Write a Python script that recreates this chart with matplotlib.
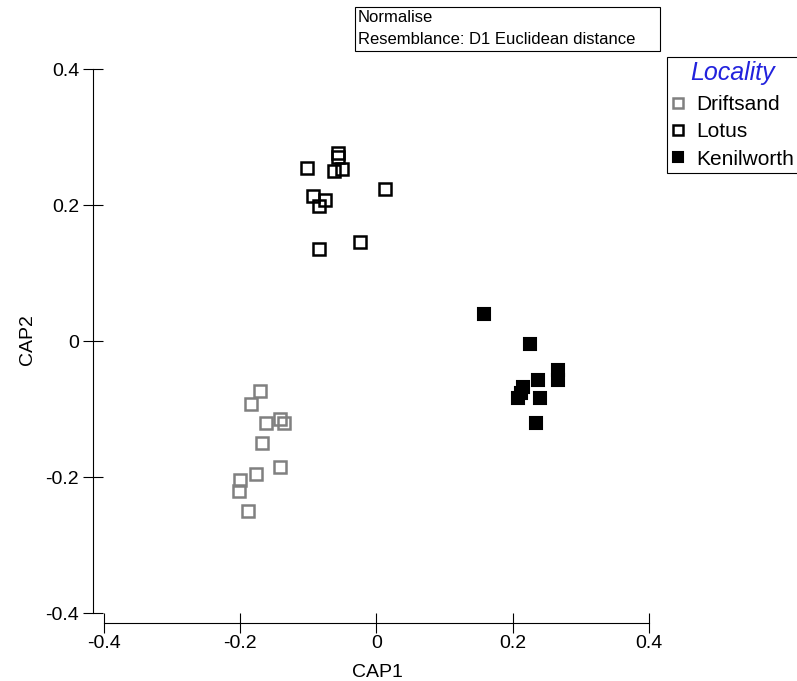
import matplotlib
matplotlib.use("Agg")
import matplotlib.pyplot as plt
from matplotlib.patches import Rectangle

plt.rcParams["font.family"] = ["Liberation Sans", "DejaVu Sans"]

# ---- datos ----
drift_x = [-0.171, -0.184, -0.162, -0.142, -0.136, -0.168, -0.142, -0.177, -0.200, -0.201, -0.188]
drift_y = [-0.073, -0.092, -0.121, -0.115, -0.120, -0.150, -0.185, -0.195, -0.204, -0.220, -0.250]

lotus_x = [-0.102, -0.056, -0.056, -0.062, -0.050, -0.093, -0.076, -0.084, 0.013, -0.024, -0.084]
lotus_y = [0.254, 0.277, 0.271, 0.250, 0.253, 0.213, 0.208, 0.198, 0.223, 0.145, 0.136]

keni_x = [0.158, 0.225, 0.266, 0.267, 0.238, 0.216, 0.208, 0.212, 0.241, 0.235]
keni_y = [0.040, -0.005, -0.043, -0.058, -0.058, -0.068, -0.084, -0.077, -0.084, -0.120]

ticks = [-0.4, -0.2, 0, 0.2, 0.4]
tick_labels = ["-0.4", "-0.2", "0", "0.2", "0.4"]

W, H = 797, 681
fig = plt.figure(figsize=(W / 100, H / 100), dpi=100)
ax = fig.add_axes([93 / W, (H - 623) / H, (662.4 - 93) / W, (623 - 55.4) / H])

ax.plot(drift_x, drift_y, "s", ls="none", ms=8, mfc="none", mec="#808080", mew=1.8, label="Driftsand")
ax.plot(lotus_x, lotus_y, "s", ls="none", ms=8, mfc="none", mec="black", mew=1.8, label="Lotus")
ax.plot(keni_x, keni_y, "s", ls="none", ms=8.5, mfc="black", mec="black", mew=1.5, label="Kenilworth")

ax.set_xlim(-0.416, 0.42)
ax.set_ylim(-0.4147, 0.42)

for s in ["top", "right"]:
    ax.spines[s].set_visible(False)
for s in ["left", "bottom"]:
    ax.spines[s].set_bounds(-0.4, 0.4)
    ax.spines[s].set_linewidth(0.8)

ax.set_xticks(ticks)
ax.set_xticklabels(tick_labels)
ax.set_yticks(ticks)
ax.set_yticklabels(tick_labels)
ax.tick_params(direction="inout", length=14, width=0.8, labelsize=14, pad=3)
ax.tick_params(axis="x", pad=2)

ax.set_xlabel("CAP1", fontsize=14, labelpad=8)
ax.set_ylabel("CAP2", fontsize=14, labelpad=7)

# leyenda
leg = ax.legend(loc="upper left", bbox_to_anchor=(667 / W, 1 - 57 / H), bbox_transform=fig.transFigure,
                borderaxespad=0, fancybox=False, edgecolor="black", framealpha=1,
                fontsize=15, handlelength=0.7, handletextpad=0.5, borderpad=0.2,
                labelspacing=0.4, title="Locality",
                title_fontproperties={"size": 18, "style": "italic"}, markerscale=0.85)
leg.get_title().set_color("#2222dd")
leg.get_frame().set_linewidth(0.8)
leg._legend_box.sep = 7

# caja de texto superior
fig.patches.append(Rectangle((355 / W, 1 - 51 / H), (660 - 355) / W, 44 / H,
                             transform=fig.transFigure, fill=False, ec="black", lw=0.8))
fig.text(358 / W, 1 - 17 / H, "Normalise", fontsize=12, va="center", ha="left")
fig.text(358 / W, 1 - 39 / H, "Resemblance: D1 Euclidean distance", fontsize=12, va="center", ha="left")

fig.savefig("out.png", dpi=100)
